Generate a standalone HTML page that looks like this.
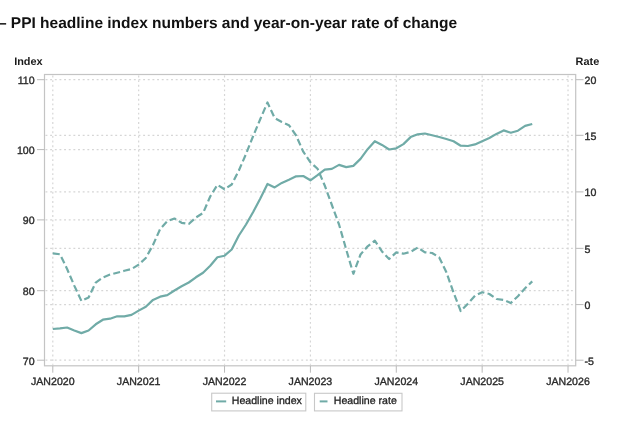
<!DOCTYPE html>
<html><head><meta charset="utf-8"><title>PPI headline index numbers and year-on-year rate of change</title>
<style>
html,body{margin:0;padding:0;background:#fff;}
body{width:624px;height:429px;overflow:hidden;position:relative;font-family:"Liberation Sans",Arial,sans-serif;}
h1{position:absolute;left:0;top:0;margin:0;font-size:14px;font-weight:bold;color:#111;white-space:nowrap;line-height:1;}
svg{position:absolute;left:0;top:0;filter:blur(0.5px);}
text{text-rendering:geometricPrecision;}
</style></head>
<body>
<svg width="624" height="429" viewBox="0 0 624 429">
<text x="-2.1" y="28" text-rendering="geometricPrecision" font-family="Liberation Sans, Arial, sans-serif" font-size="15.5" font-weight="bold" fill="#111">– PPI headline index numbers and year-on-year rate of change</text>
<g font-family="Liberation Sans, Arial, sans-serif" font-size="10.9" font-weight="bold" fill="#1a1a1a">
<text x="14.2" y="65.2">Index</text>
<text x="575.6" y="65.0">Rate</text>
</g>
<g stroke="#d6d6d6" stroke-width="1.2" stroke-dasharray="1.9 2.75" fill="none">
<line x1="45.5" y1="79.7" x2="574.7" y2="79.7"/>
<line x1="45.5" y1="135.3" x2="574.7" y2="135.3"/>
<line x1="45.5" y1="149.6" x2="574.7" y2="149.6"/>
<line x1="45.5" y1="191.9" x2="574.7" y2="191.9"/>
<line x1="45.5" y1="219.9" x2="574.7" y2="219.9"/>
<line x1="45.5" y1="248.35" x2="574.7" y2="248.35"/>
<line x1="45.5" y1="290.7" x2="574.7" y2="290.7"/>
<line x1="45.5" y1="304.6" x2="574.7" y2="304.6"/>
<line x1="45.5" y1="360.2" x2="574.7" y2="360.2"/>
<line x1="52.80" y1="75.5" x2="52.80" y2="364.8"/>
<line x1="138.67" y1="75.5" x2="138.67" y2="364.8"/>
<line x1="224.54" y1="75.5" x2="224.54" y2="364.8"/>
<line x1="310.42" y1="75.5" x2="310.42" y2="364.8"/>
<line x1="396.29" y1="75.5" x2="396.29" y2="364.8"/>
<line x1="482.16" y1="75.5" x2="482.16" y2="364.8"/>
<line x1="568.03" y1="75.5" x2="568.03" y2="364.8"/>
</g>
<rect x="44.5" y="74.5" width="531.2" height="291.3" fill="none" stroke="#c4c4c4" stroke-width="1.2"/>
<g stroke="#bababa" stroke-width="1">
<line x1="37" y1="79.7" x2="44.5" y2="79.7"/>
<line x1="37" y1="149.6" x2="44.5" y2="149.6"/>
<line x1="37" y1="219.9" x2="44.5" y2="219.9"/>
<line x1="37" y1="290.7" x2="44.5" y2="290.7"/>
<line x1="37" y1="360.2" x2="44.5" y2="360.2"/>
<line x1="575.7" y1="79.7" x2="583.5" y2="79.7"/>
<line x1="575.7" y1="135.3" x2="583.5" y2="135.3"/>
<line x1="575.7" y1="191.9" x2="583.5" y2="191.9"/>
<line x1="575.7" y1="248.35" x2="583.5" y2="248.35"/>
<line x1="575.7" y1="304.6" x2="583.5" y2="304.6"/>
<line x1="575.7" y1="360.2" x2="583.5" y2="360.2"/>
<line x1="52.80" y1="365.8" x2="52.80" y2="372.7"/>
<line x1="138.67" y1="365.8" x2="138.67" y2="372.7"/>
<line x1="224.54" y1="365.8" x2="224.54" y2="372.7"/>
<line x1="310.42" y1="365.8" x2="310.42" y2="372.7"/>
<line x1="396.29" y1="365.8" x2="396.29" y2="372.7"/>
<line x1="482.16" y1="365.8" x2="482.16" y2="372.7"/>
<line x1="568.03" y1="365.8" x2="568.03" y2="372.7"/>
</g>
<g font-family="Liberation Sans, Arial, sans-serif" font-size="10.6" fill="#2a2a2a" stroke="#2a2a2a" stroke-width="0.35">
<text x="34.6" y="84.0" text-anchor="end">110</text>
<text x="34.6" y="153.9" text-anchor="end">100</text>
<text x="34.6" y="224.2" text-anchor="end">90</text>
<text x="34.6" y="295.0" text-anchor="end">80</text>
<text x="34.6" y="364.5" text-anchor="end">70</text>
<text x="584.6" y="84.0">20</text>
<text x="584.6" y="139.6">15</text>
<text x="584.6" y="196.2">10</text>
<text x="584.6" y="252.7">5</text>
<text x="584.6" y="308.9">0</text>
<text x="584.6" y="364.5">-5</text>
<text x="52.80" y="385.1" text-anchor="middle">JAN2020</text>
<text x="138.67" y="385.1" text-anchor="middle">JAN2021</text>
<text x="224.54" y="385.1" text-anchor="middle">JAN2022</text>
<text x="310.42" y="385.1" text-anchor="middle">JAN2023</text>
<text x="396.29" y="385.1" text-anchor="middle">JAN2024</text>
<text x="482.16" y="385.1" text-anchor="middle">JAN2025</text>
<text x="568.03" y="385.1" text-anchor="middle">JAN2026</text>
</g>
<polyline points="52.80,329.00 59.96,328.40 67.11,327.50 74.27,330.50 81.42,333.10 88.58,330.50 95.74,324.30 102.89,319.70 110.05,318.70 117.20,316.30 124.36,316.40 131.52,314.90 138.67,310.60 145.83,306.80 152.98,299.90 160.14,296.70 167.30,295.20 174.45,290.50 181.61,286.30 188.76,282.50 195.92,277.30 203.08,272.70 210.23,265.70 217.39,257.30 224.54,255.70 231.70,249.50 238.86,235.50 246.01,224.50 253.17,212.00 260.32,198.50 267.48,183.90 274.64,187.40 281.79,182.90 288.95,179.70 296.10,176.30 303.26,176.00 310.42,180.30 317.57,175.20 324.73,169.60 331.88,168.90 339.04,164.90 346.20,167.10 353.35,165.90 360.51,158.90 367.66,149.20 374.82,141.20 381.98,144.90 389.13,149.50 396.29,148.30 403.44,144.10 410.60,137.10 417.76,134.30 424.91,133.50 432.07,135.30 439.22,137.00 446.38,139.00 453.54,141.20 460.69,145.70 467.85,146.00 475.00,144.40 482.16,141.20 489.32,138.00 496.47,133.90 503.63,130.40 510.78,132.70 517.94,130.70 525.10,125.90 532.25,124.00" fill="none" stroke="#70aba7" stroke-width="2.2" stroke-linejoin="round" stroke-linecap="butt"/>
<polyline points="52.80,253.30 59.96,254.30 67.11,269.00 74.27,285.60 81.42,301.00 88.58,297.50 95.74,282.60 102.89,277.50 110.05,274.60 117.20,272.70 124.36,270.80 131.52,269.00 138.67,264.60 145.83,258.00 152.98,245.00 160.14,229.00 167.30,221.20 174.45,218.50 181.61,222.80 188.76,224.00 195.92,217.50 203.08,213.00 210.23,196.50 217.39,184.80 224.54,189.30 231.70,184.50 238.86,170.50 246.01,154.00 253.17,136.00 260.32,119.00 267.48,102.50 274.64,118.00 281.79,122.00 288.95,125.20 296.10,135.50 303.26,151.70 310.42,162.30 317.57,168.80 324.73,185.50 331.88,205.00 339.04,224.50 346.20,249.50 353.35,273.80 360.51,254.50 367.66,246.30 374.82,240.70 381.98,251.40 389.13,259.00 396.29,252.40 403.44,253.70 410.60,251.80 417.76,247.50 424.91,252.30 432.07,253.00 439.22,257.40 446.38,272.30 453.54,292.50 460.69,311.00 467.85,303.70 475.00,295.80 482.16,292.20 489.32,294.00 496.47,299.00 503.63,300.00 510.78,303.00 517.94,296.20 525.10,288.30 532.25,281.40" fill="none" stroke="#70aba7" stroke-width="2.2" stroke-linejoin="round" stroke-dasharray="7 3.3"/>
<g fill="none" stroke="#c8c8c8" stroke-width="1.1">
<rect x="211.7" y="393.2" width="94.1" height="17.7"/>
<rect x="314.5" y="393.3" width="87.5" height="17.6"/>
</g>
<line x1="216" y1="401.4" x2="226.2" y2="401.4" stroke="#70aba7" stroke-width="2"/>
<line x1="319.7" y1="401.4" x2="327.5" y2="401.4" stroke="#70aba7" stroke-width="2"/>
<g font-family="Liberation Sans, Arial, sans-serif" font-size="10.6" fill="#1e1e1e" stroke="#1e1e1e" stroke-width="0.3">
<text x="231.8" y="403.5">Headline index</text>
<text x="333.8" y="403.5">Headline rate</text>
</g>
</svg>
</body></html>
